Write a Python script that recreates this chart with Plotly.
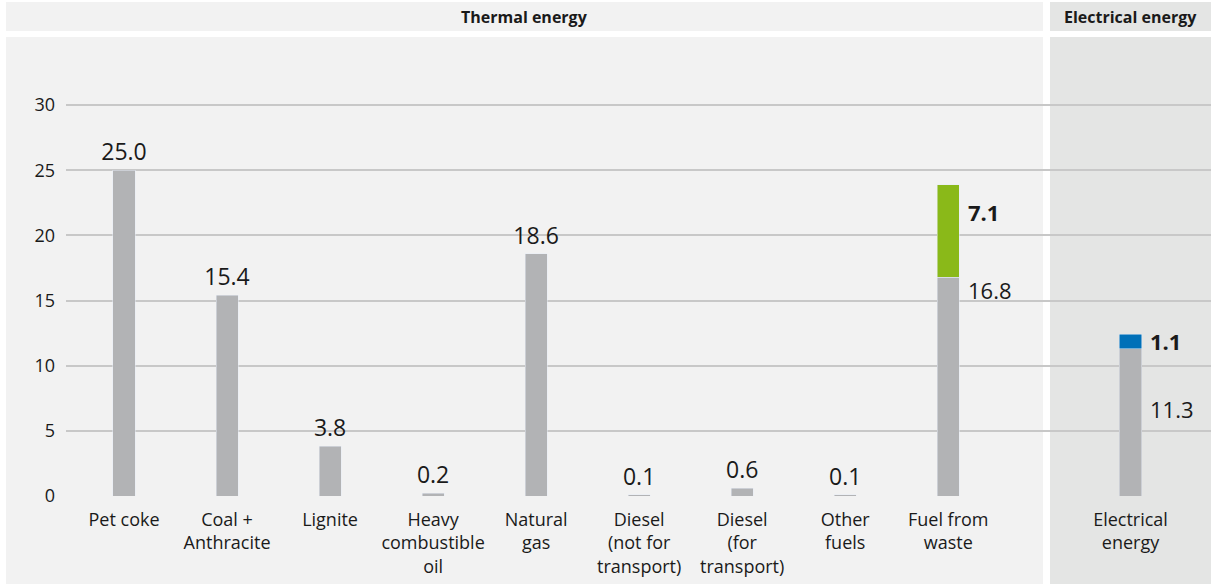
import plotly.graph_objects as go

# ---- data ----
thermal_categories = ["Pet coke", "Coal +<br>Anthracite", "Lignite", "Heavy<br>combustible<br>oil",
                      "Natural<br>gas", "Diesel<br>(not for<br>transport)", "Diesel<br>(for<br>transport)",
                      "Other<br>fuels", "Fuel from<br>waste"]
thermal_base = [25.0, 15.4, 3.8, 0.2, 18.6, 0.1, 0.6, 0.1, 16.8]
thermal_extra = [None, None, None, None, None, None, None, None, 7.1]
electrical_categories = ["Electrical<br>energy"]
electrical_base = [11.3]
electrical_extra = [1.1]
y_ticks = [0, 5, 10, 15, 20, 25, 30]
headers = ["Thermal energy", "Electrical energy"]

# ---- style / layout constants (pixels) ----
W, H = 1211, 584
L, R, T, B = 66, 0, 40, 88
PW = W - L - R
PH = H - T - B
GRAY = "#b2b3b5"
GREEN = "#8ab919"
BLUE = "#0070b8"
BG1 = "#f2f2f2"
BG2 = "#e4e5e4"
GRID = "#c8c8c8"
FONT = "Open Sans, Noto Sans, sans-serif"
TXT = "#1a1a1a"


def px_x(p):
    return (p - L) / PW


def px_y(q):
    return (H - B - q) / PH


th_end = px_x(1043)
el_start = px_x(1050)

fig = go.Figure()

# invisible full-width helper so the y gridlines run across both panels
fig.add_trace(go.Scatter(x=[0.5], y=[0], xaxis="x", yaxis="y", mode="markers",
                         marker=dict(opacity=0), showlegend=False, hoverinfo="skip"))

# thermal bars
base_text = [f"{v:.1f}" if e is None else "" for v, e in zip(thermal_base, thermal_extra)]
fig.add_trace(go.Bar(x=thermal_categories, y=thermal_base, xaxis="x2", yaxis="y",
                     marker_color=GRAY, width=0.214, text=base_text, textposition="outside",
                     constraintext="none",
                     textfont=dict(size=23, color=TXT, family=FONT), cliponaxis=False,
                     showlegend=False, hoverinfo="skip"))
fig.add_trace(go.Bar(x=thermal_categories, y=thermal_extra, xaxis="x2", yaxis="y",
                     marker_color=GREEN, width=0.214, showlegend=False, hoverinfo="skip"))
# electrical bars
fig.add_trace(go.Bar(x=electrical_categories, y=electrical_base, xaxis="x3", yaxis="y",
                     marker_color=GRAY, width=0.137, showlegend=False, hoverinfo="skip"))
fig.add_trace(go.Bar(x=electrical_categories, y=electrical_extra, xaxis="x3", yaxis="y",
                     marker_color=BLUE, width=0.137, showlegend=False, hoverinfo="skip"))

# stacked-bar labels
fw = thermal_categories[-1]
lab = dict(size=22, color=TXT, family=FONT)
ann = [
    dict(xref="x2", yref="y", x=fw, y=thermal_base[-1], text=f"{thermal_base[-1]:.1f}",
         xanchor="left", yanchor="top", xshift=18, yshift=4, font=lab),
    dict(xref="x2", yref="y", x=fw, y=thermal_base[-1] + thermal_extra[-1], text=f"<b>{thermal_extra[-1]:.1f}</b>",
         xanchor="left", yanchor="top", xshift=18, yshift=-10, font=lab),
    dict(xref="x3", yref="y", x=electrical_categories[0], y=electrical_base[0], text=f"{electrical_base[0]:.1f}",
         xanchor="left", yanchor="top", xshift=17, yshift=-43, font=lab),
    dict(xref="x3", yref="y", x=electrical_categories[0], y=electrical_base[0] + electrical_extra[0],
         text=f"<b>{electrical_extra[0]:.1f}</b>",
         xanchor="left", yanchor="top", xshift=17, yshift=10, font=lab),
    dict(xref="paper", yref="paper", x=px_x((6 + 1043) / 2), y=px_y(17), text=f"<b>{headers[0]}</b>",
         xanchor="center", yanchor="middle", font=dict(size=16, color=TXT, family=FONT)),
    dict(xref="paper", yref="paper", x=px_x((1050 + 1211) / 2), y=px_y(17), text=f"<b>{headers[1]}</b>",
         xanchor="center", yanchor="middle", font=dict(size=16, color=TXT, family=FONT)),
]
for a in ann:
    a["showarrow"] = False

shapes = [
    dict(type="rect", xref="paper", yref="paper", x0=px_x(6), x1=th_end, y0=px_y(31), y1=px_y(2),
         fillcolor=BG1, line_width=0, layer="below"),
    dict(type="rect", xref="paper", yref="paper", x0=el_start, x1=px_x(1211), y0=px_y(31), y1=px_y(2),
         fillcolor=BG2, line_width=0, layer="below"),
    dict(type="rect", xref="paper", yref="paper", x0=px_x(6), x1=th_end, y0=px_y(584), y1=px_y(37),
         fillcolor=BG1, line_width=0, layer="below"),
    dict(type="rect", xref="paper", yref="paper", x0=el_start, x1=px_x(1211), y0=px_y(584), y1=px_y(37),
         fillcolor=BG2, line_width=0, layer="below"),
]

n = len(thermal_categories)
tickf = dict(size=18, color=TXT, family=FONT)
fig.update_layout(
    width=W, height=H, margin=dict(l=L, r=R, t=T, b=B),
    paper_bgcolor="white", plot_bgcolor="rgba(0,0,0,0)",
    barmode="stack", font=dict(family=FONT, color=TXT),
    shapes=shapes, annotations=ann,
    xaxis=dict(domain=[0, 1], anchor="y", range=[0, 1], showgrid=False, zeroline=False,
               showline=False, showticklabels=False, ticks="", fixedrange=True),
    xaxis2=dict(domain=[0, th_end], anchor="y", type="category", range=[-0.563, n - 1 + 0.92],
                showgrid=False, showline=False, ticks="", tickfont=tickf, ticklabelstandoff=11),
    xaxis3=dict(domain=[el_start, 1], anchor="y", type="category", range=[-0.5, 0.5],
                showgrid=False, showline=False, ticks="", tickfont=tickf, ticklabelstandoff=11),
    yaxis=dict(domain=[0, 1], anchor="x", range=[0, 35], tickvals=y_ticks, showgrid=True,
               gridcolor=GRID, gridwidth=1.5, zeroline=False, showline=False,
               ticklabelstandoff=10, tickfont=tickf),
)

fig.write_html("out.html", config={"displayModeBar": False},
               post_script="document.body.style.margin='0px';")
